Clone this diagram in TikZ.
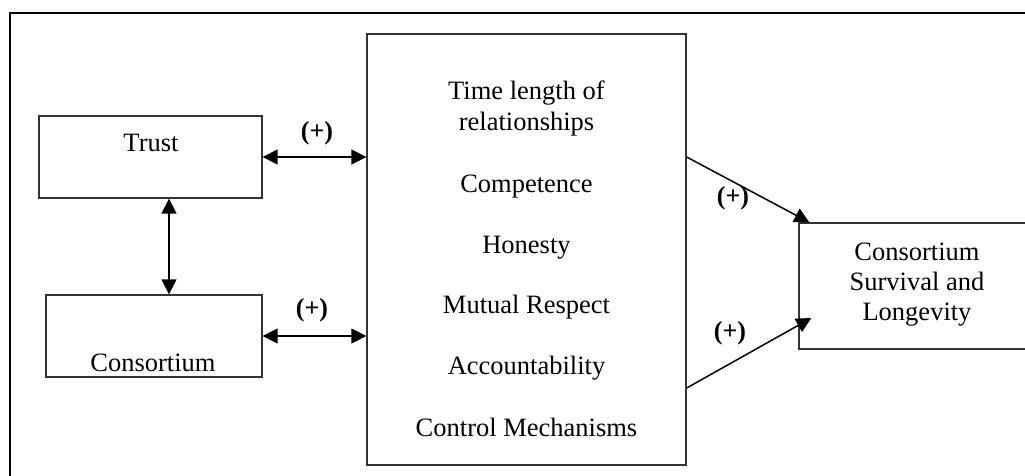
\documentclass[tikz,border=0pt]{standalone}
\usepackage{fontspec}
\setmainfont{Liberation Serif}
\usetikzlibrary{arrows.meta,calc}
\begin{document}
\begin{tikzpicture}[x=1pt,y=-1pt,
  box/.style={draw=black!80,line width=1.3pt,rectangle,inner sep=0pt},
  txt/.style={inner sep=0pt,anchor=base,font=\fontsize{26.5}{31}\selectfont},
  plus/.style={inner sep=0pt,font=\fontsize{26}{31}\selectfont\bfseries},
  conn/.style={line width=1.5pt,black},
  tip/.style={-{Triangle[length=15pt,width=15pt]}},
  twotip/.style={{Triangle[length=15pt,width=15pt]}-{Triangle[length=15pt,width=15pt]}}]
\useasboundingbox (0,0) rectangle (1025,475);
% outer frame (open to the right and bottom)
\coordinate (fbl) at (10,490);
\coordinate (ftl) at (10,13);
\coordinate (ftr) at (1040,13);
\draw[line width=2pt,black] (fbl) -- (ftl) -- (ftr);
% boxes
\node[box,minimum width=223pt,minimum height=82pt] (trust) at (150.5,157) {};
\node[box,minimum width=216pt,minimum height=82pt] (cons) at (154,336) {};
\node[box,minimum width=319pt,minimum height=431pt] (mid) at (526.5,249.5) {};
\node[box,minimum width=236pt,minimum height=126pt] (surv) at (917,286) {};
% box texts
\node[txt] (ttrust) at (151,151) {Trust};
\node[txt] (tcons) at (153,371) {Consortium};
\node[txt] (m1) at (526.5,99) {Time length of};
\node[txt] (m2) at (526.5,130) {relationships};
\node[txt] (m3) at (526.5,192) {Competence};
\node[txt] (m4) at (526.5,253) {Honesty};
\node[txt] (m5) at (526.5,313) {Mutual Respect};
\node[txt] (m6) at (526.5,374) {Accountability};
\node[txt] (m7) at (526.5,436) {Control Mechanisms};
\node[txt] (s1) at (917,260) {Consortium};
\node[txt] (s2) at (917,290) {Survival and};
\node[txt] (s3) at (917,320) {Longevity};
% connectors
\draw[conn,twotip] (trust.east) -- (trust.east -| mid.west);
\draw[conn,twotip] (cons.east) -- (cons.east -| mid.west);
\coordinate (vx) at (169,0);
\draw[conn,twotip] (trust.south -| vx) -- (cons.north -| vx);
\draw[conn,tip] ([shift={(0,-92.5)}]mid.east) -- ([shift={(11,0)}]surv.north west);
\draw[conn,tip] ([shift={(0,138.5)}]mid.east) -- ([shift={(13,32)}]surv.west);
% labels
\node[plus] (p1) at (317,133) {(+)};
\node[plus] (p2) at (312,310) {(+)};
\node[plus] (p3) at (733,198) {(+)};
\node[plus] (p4) at (730,333) {(+)};
\end{tikzpicture}
\end{document}
